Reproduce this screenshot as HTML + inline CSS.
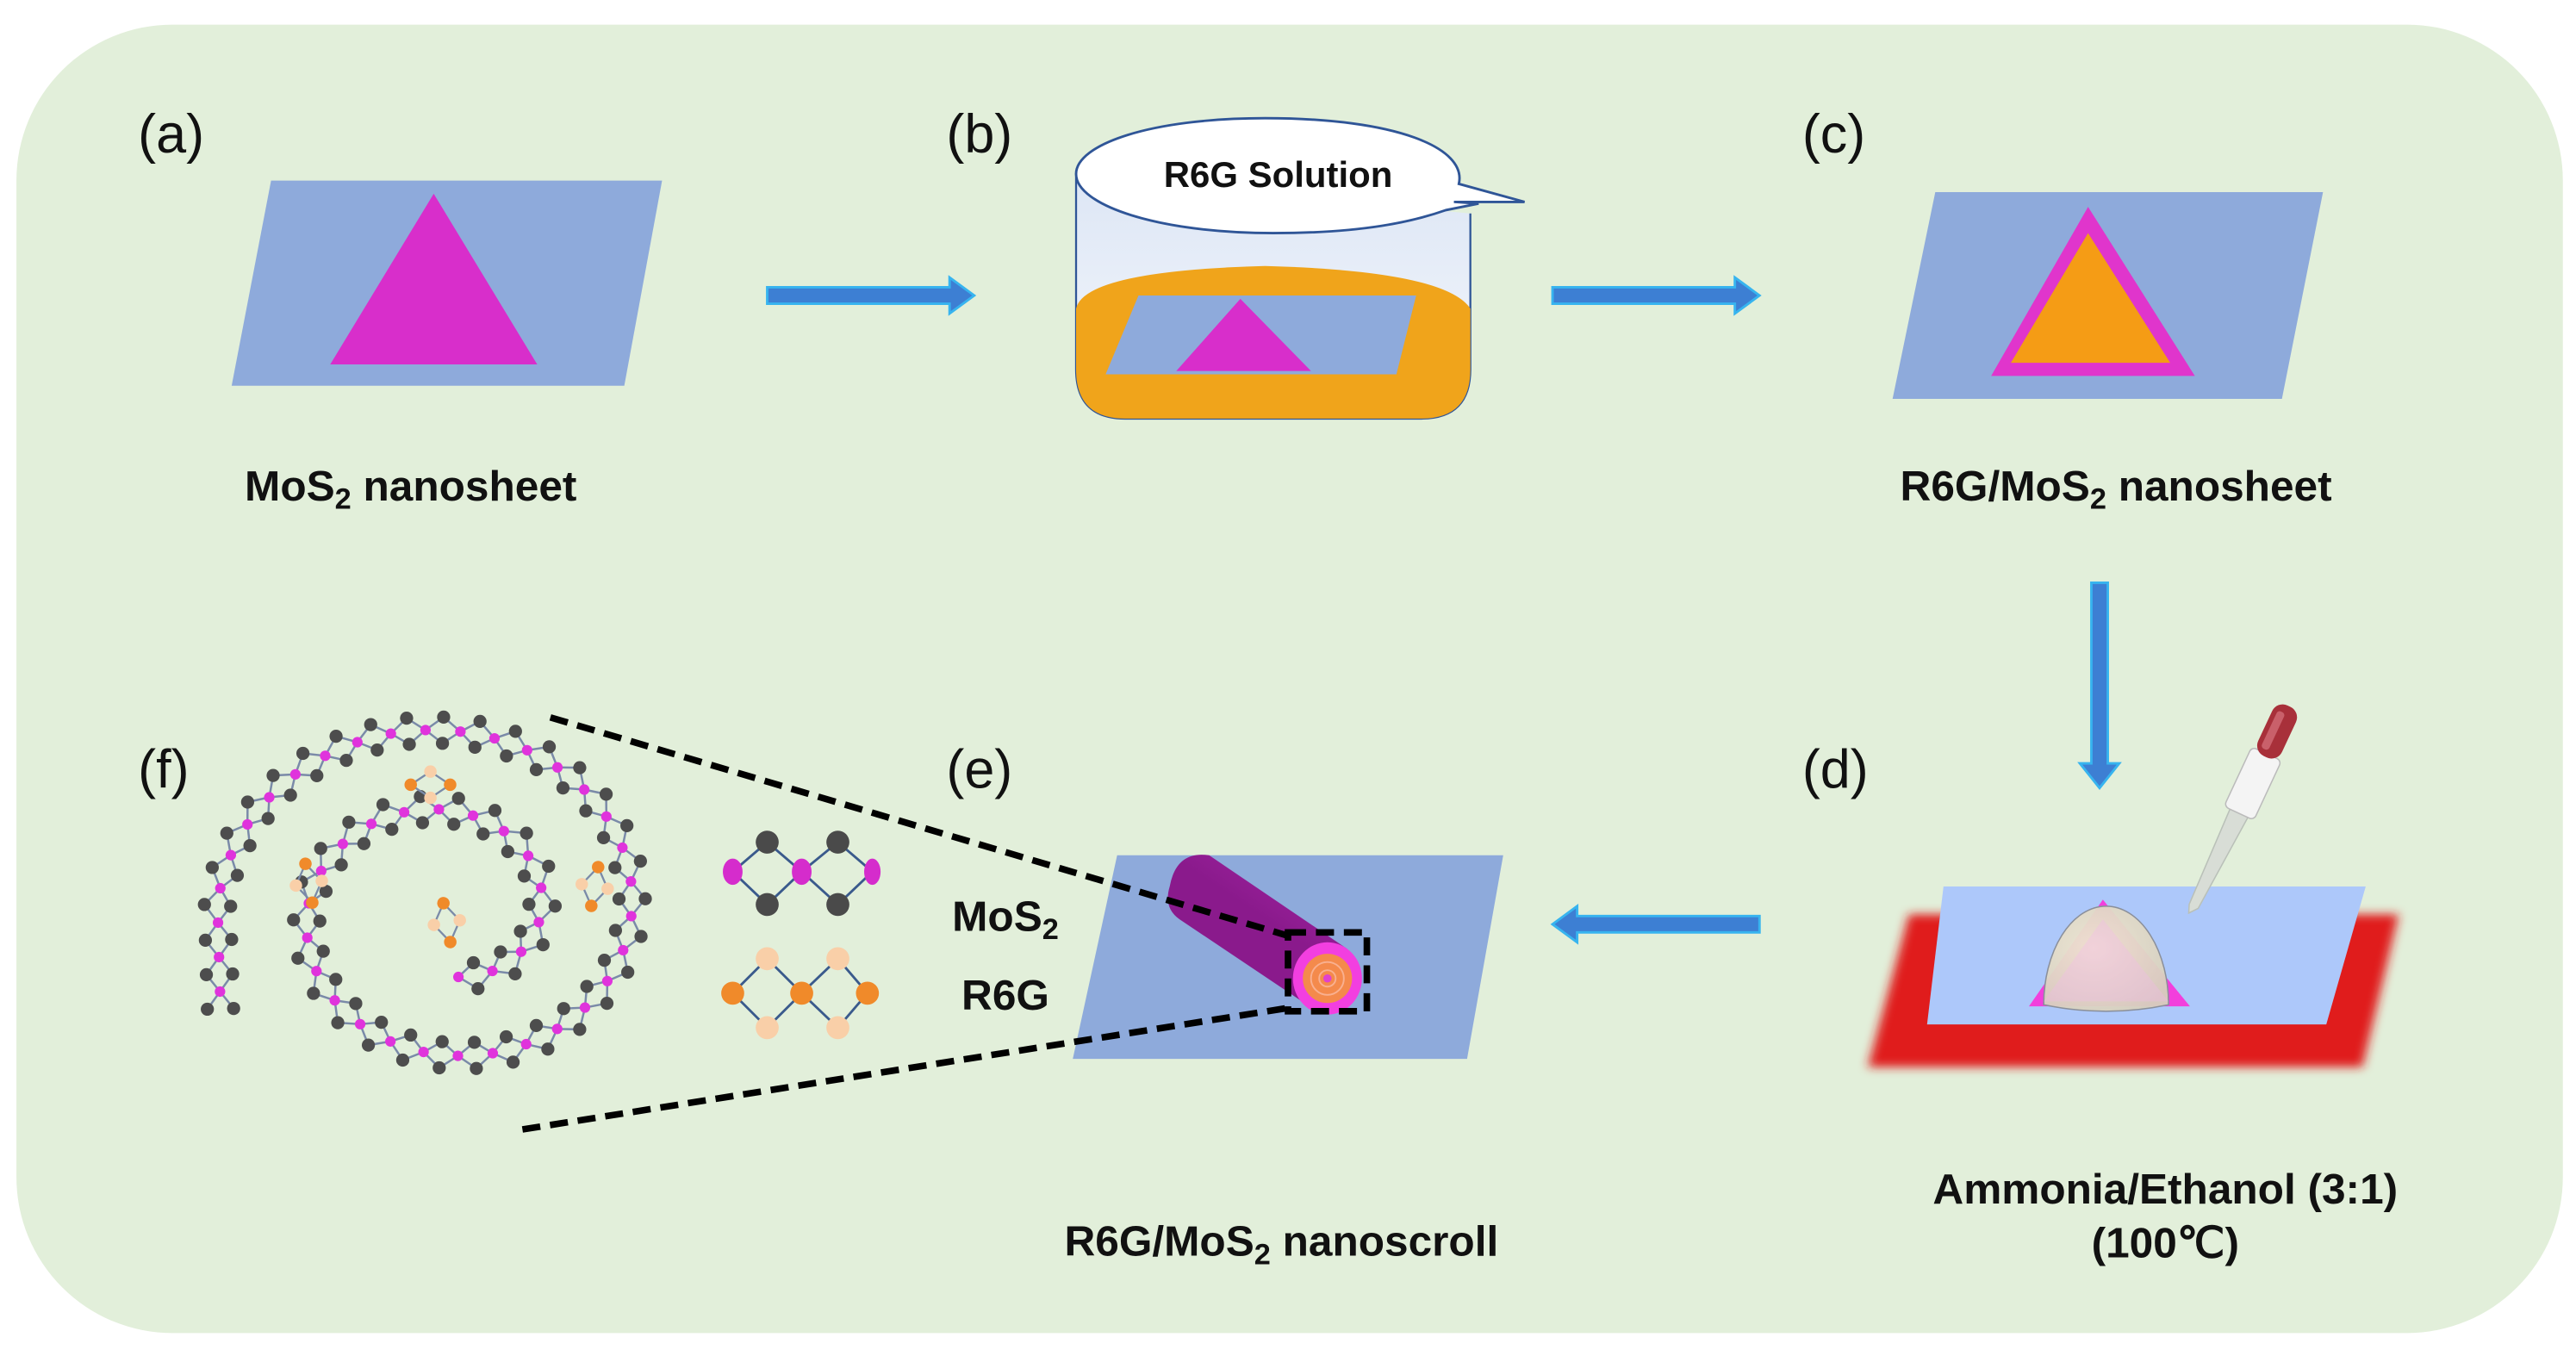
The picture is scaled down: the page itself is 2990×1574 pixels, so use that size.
<!DOCTYPE html>
<html><head><meta charset="utf-8"><style>
html,body{margin:0;padding:0;background:#fff;}
svg{display:block;}
text{font-family:"Liberation Sans",Arial,sans-serif;}
.lb{font-size:33px;fill:#111;}
.bd{font-size:26px;font-weight:bold;fill:#111;}
</style></head><body>
<svg id="s" width="2990" height="1574" viewBox="0 0 1568 826" preserveAspectRatio="none" xmlns="http://www.w3.org/2000/svg">
<defs>
<filter id="bl"><feGaussianBlur stdDeviation="3"/></filter>
<linearGradient id="cyl" x1="0" y1="0" x2="1" y2="-1.3"><stop offset="0" stop-color="#8a1a8c"/><stop offset="0.5" stop-color="#b52bb4"/><stop offset="1" stop-color="#9a1f9c"/></linearGradient>
<linearGradient id="glass" x1="0" y1="0" x2="0" y2="1"><stop offset="0" stop-color="#dde6f5"/><stop offset="1" stop-color="#f5f8fd"/></linearGradient>
<radialGradient id="dome" cx="0.4" cy="0.4" r="0.7"><stop offset="0" stop-color="#efe6d0" stop-opacity="0.95"/><stop offset="1" stop-color="#d6cfbd" stop-opacity="0.95"/></radialGradient>
</defs>
<rect x="10" y="15" width="1550" height="797" rx="95" ry="95" fill="#e2efda"/>

<text class="lb" x="84" y="93">(a)</text>
<text class="lb" x="576" y="93">(b)</text>
<text class="lb" x="1097" y="93">(c)</text>
<text class="lb" x="1097" y="480">(d)</text>
<text class="lb" x="576" y="480">(e)</text>
<text class="lb" x="84" y="480">(f)</text>

<!-- (a) -->
<polygon points="165,110 403,110 380,235 141,235" fill="#8eaadb"/>
<polygon points="264,118 327,222 201,222" fill="#d82ecb"/>
<text class="bd" x="250" y="305" text-anchor="middle">MoS<tspan font-size="18" dy="5">2</tspan><tspan dy="-5"> nanosheet</tspan></text>

<g fill="#3d7fd3" stroke="#37b4ef" stroke-width="1.5">
<polygon points="467,175 578,175 578,169 593,180 578,191 578,185 467,185"/>
<polygon points="945,175 1056,175 1056,169 1071,180 1056,191 1056,185 945,185"/>
<polygon points="1273,355 1283,355 1283,465 1290,465 1278,480 1266,465 1273,465"/>
<polygon points="1071,558 960,558 960,552 945,563 960,574 960,568 1071,568"/>
</g>

<!-- (b) beaker -->
<path d="M655,108 L655,225 Q655,255 685,255 L865,255 Q895,255 895,225 L895,130" fill="url(#glass)" stroke="#2f5597" stroke-width="1.2"/>
<path d="M655,188 Q660,165 770,162 Q880,165 895,188 L895,225 Q895,255 865,255 L685,255 Q655,255 655,225 Z" fill="#f0a41b"/>
<polygon points="693,180 862,180 850,228 673,228" fill="#8eaadb"/>
<polygon points="755,182 798,226 716,226" fill="#d82ecb"/>
<path d="M770,72 C700,72 655,88 655,106 C655,125 705,142 775,142 C830,142 860,135 880,128 L900,124 L885,123 L928,123 L888,112 C893,90 850,72 770,72 Z" fill="#fff" stroke="#2f5597" stroke-width="1.5"/>
<text x="778" y="114" font-size="22" font-weight="bold" text-anchor="middle" fill="#111">R6G Solution</text>

<!-- (c) -->
<polygon points="1178,117 1414,117 1389,243 1152,243" fill="#8eaadb"/>
<polygon points="1271,126 1336,229 1212,229" fill="#e035cc"/>
<polygon points="1271,142 1321,221 1224,221" fill="#f59c15"/>
<text class="bd" x="1288" y="305" text-anchor="middle">R6G/MoS<tspan font-size="18" dy="5">2</tspan><tspan dy="-5"> nanosheet</tspan></text>

<!-- (d) -->
<polygon points="1162,557 1460,557 1438,650 1137,650" fill="#e01a1a" filter="url(#bl)"/>
<polygon points="1183,540 1440,540 1416,624 1173,624" fill="#adc8fa"/>
<polygon points="1280,548 1333,613 1235,613" fill="#f23fdc"/>
<path d="M1244,612 A38,60 0 0 1 1320,612 Q1282,620 1244,612 Z" fill="url(#dome)" stroke="#8a8f9a" stroke-width="0.8"/>
<polygon points="1280,560 1320,610 1244,610" fill="#f4b7ee" opacity="0.3"/>
<g transform="rotate(25 1370 480)">
<path d="M1364,497 L1376,497 L1372,560 L1368,565 L1366,560 Z" fill="#d8ddd6" stroke="#b9c0b8" stroke-width="0.8"/>
<rect x="1360" y="457" width="20" height="40" rx="3" fill="#f4f4f4" stroke="#bbb" stroke-width="0.8"/>
<rect x="1362" y="425" width="16" height="34" rx="7" fill="#a8303a"/>
<rect x="1365" y="430" width="5" height="25" rx="2" fill="#c9606a"/>
</g>
<text class="bd" x="1318" y="733" text-anchor="middle">Ammonia/Ethanol (3:1)</text>
<text class="bd" x="1318" y="766" text-anchor="middle">(100℃)</text>

<!-- (e) -->
<polygon points="680,521 915,521 893,645 653,645" fill="#8eaadb"/>
<path d="M712,540 Q716,518 736,521 L820,578 L800,615 L718,560 Q708,553 712,540 Z" fill="url(#cyl)"/>
<ellipse cx="808" cy="596" rx="21" ry="22" fill="#f23fe0"/>
<circle cx="808" cy="596" r="15" fill="#f48a4c"/>
<circle cx="808" cy="596" r="10" fill="none" stroke="#f9b090" stroke-width="1"/>
<circle cx="808" cy="596" r="5" fill="none" stroke="#f9b090" stroke-width="1"/>
<circle cx="808" cy="596" r="2.5" fill="#e040d0"/>
<g fill="none" stroke="#000" stroke-width="4" stroke-dasharray="11,6">
<rect x="784" y="568" width="48" height="48"/>
<line x1="335" y1="437" x2="784" y2="570"/>
<line x1="318" y1="688" x2="784" y2="614"/>
</g>
<text class="bd" x="612" y="567" text-anchor="middle">MoS<tspan font-size="18" dy="5">2</tspan></text>
<text class="bd" x="612" y="615" text-anchor="middle">R6G</text>
<text class="bd" x="780" y="765" text-anchor="middle">R6G/MoS<tspan font-size="18" dy="5">2</tspan><tspan dy="-5"> nanoscroll</tspan></text>

<g stroke="#3a5a8c" stroke-width="1.5">
<polyline points="446,531 467,513 488,531 510,513 531,531" fill="none"/>
<polyline points="446,531 467,551 488,531 510,551 531,531" fill="none"/>
<polyline points="446,605 467,584 488,605 510,584 528,605" fill="none"/>
<polyline points="446,605 467,626 488,605 510,626 528,605" fill="none"/>
</g>
<g fill="#4a4a4a"><circle cx="467" cy="513" r="7"/><circle cx="510" cy="513" r="7"/><circle cx="467" cy="551" r="7"/><circle cx="510" cy="551" r="7"/></g>
<g fill="#d52ccc"><ellipse cx="446" cy="531" rx="6" ry="8"/><ellipse cx="488" cy="531" rx="6" ry="8"/><ellipse cx="531" cy="531" rx="5" ry="8"/></g>
<g fill="#f08a2a"><circle cx="446" cy="605" r="7"/><circle cx="488" cy="605" r="7"/><circle cx="528" cy="605" r="7"/></g>
<g fill="#f9cfa8"><circle cx="467" cy="584" r="7"/><circle cx="510" cy="584" r="7"/><circle cx="467" cy="626" r="7"/><circle cx="510" cy="626" r="7"/></g>

<g id="spiral"></g>
<g id="r6g"></g>
</svg>
<script>
(function(){
var ns="http://www.w3.org/2000/svg",g=document.getElementById("spiral");
function el(n,a,p){var e=document.createElementNS(ns,n);for(var k in a)e.setAttribute(k,a[k]);p.appendChild(e);return e;}
var cx=272,cy=556,pts=[];
var t0=Math.PI*0.55,t1=t0+Math.PI*3.45;
var prev=null,step=10.5;
for(var t=t0;t<=t1;t+=0.002){
 var r=45+(t-t0)/(t1-t0)*95;
 var x=cx-r*Math.cos(t)*1.0, y=cy+r*Math.sin(t)*0.88;
 if(!prev){pts.push([x,y]);prev=[x,y];continue;}
 if(Math.hypot(x-prev[0],y-prev[1])>=step){pts.push([x,y]);prev=[x,y];}
}
var last=pts[pts.length-1];
for(var i=1;i<7;i++){pts.push([last[0]+(i*0.3),last[1]+i*step]);}
var lines=[],greys=[],mags=[];
for(var i=0;i<pts.length;i++){
 var p=pts[i],q=pts[Math.min(i+1,pts.length-1)],o=pts[Math.max(i-1,0)];
 var dx=q[0]-o[0],dy=q[1]-o[1],L=Math.hypot(dx,dy)||1,nx=-dy/L,ny=dx/L;
 if(i%2==0){mags.push(p);}
 else{var a=[p[0]+nx*8,p[1]+ny*8],b=[p[0]-nx*8,p[1]-ny*8];greys.push(a,b);
  lines.push([pts[i-1],a],[pts[i-1],b]);
  if(i+1<pts.length){lines.push([pts[i+1],a],[pts[i+1],b]);}}
}
lines.forEach(function(l){el("line",{x1:l[0][0],y1:l[0][1],x2:l[1][0],y2:l[1][1],stroke:"#7a8aa8","stroke-width":1.3},g);});
greys.forEach(function(p){el("circle",{cx:p[0],cy:p[1],r:4,fill:"#4d4d4d"},g);});
mags.forEach(function(p){el("circle",{cx:p[0],cy:p[1],r:3.2,fill:"#e033dc"},g);});
var r6=document.getElementById("r6g");
function cluster(x,y,rot){
 var gg=el("g",{transform:"translate("+x+","+y+") rotate("+rot+")"},r6);
 var P=[[-12,0,"#f08a2a"],[0,-8,"#f9cfa8"],[0,8,"#f9cfa8"],[12,0,"#f08a2a"]];
 [[0,1],[0,2],[1,3],[2,3]].forEach(function(e){el("line",{x1:P[e[0]][0],y1:P[e[0]][1],x2:P[e[1]][0],y2:P[e[1]][1],stroke:"#7a8aa8","stroke-width":1.2},gg);});
 P.forEach(function(p){el("circle",{cx:p[0],cy:p[1],r:3.8,fill:p[2]},gg);});
}
cluster(262,478,0);cluster(188,538,80);cluster(362,540,100);cluster(272,562,80);
})();
</script>
</body></html>
